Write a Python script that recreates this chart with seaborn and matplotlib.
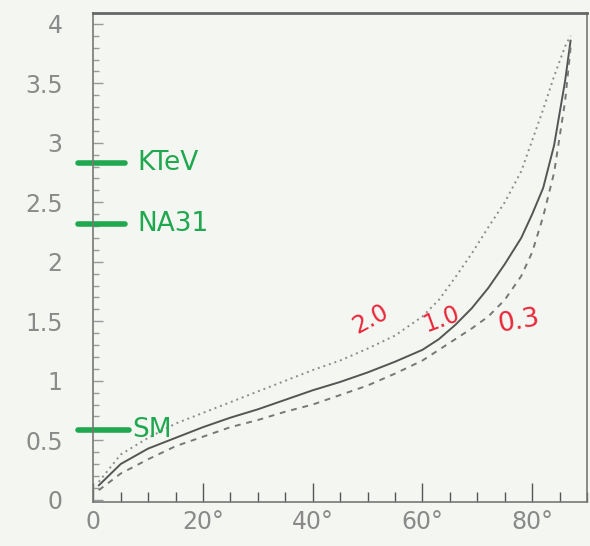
import numpy as np
import pandas as pd
import seaborn as sns
import matplotlib.pyplot as plt
from matplotlib.ticker import MultipleLocator, FuncFormatter

# angle in degrees
angle = [1, 5, 10, 15, 20, 25, 30, 35, 40, 45, 50, 55, 60, 63, 66, 69, 72, 75, 78, 80, 82, 84, 86, 87]
curve_20 = [0.15, 0.38, 0.52, 0.64, 0.73, 0.82, 0.91, 1.00, 1.09, 1.17, 1.27, 1.38, 1.54, 1.68,
            1.87, 2.07, 2.29, 2.50, 2.76, 3.02, 3.28, 3.56, 3.81, 3.90]
curve_10 = [0.12, 0.30, 0.43, 0.52, 0.61, 0.69, 0.76, 0.84, 0.92, 0.99, 1.07, 1.16, 1.26, 1.35,
            1.47, 1.61, 1.78, 1.98, 2.20, 2.40, 2.62, 2.98, 3.52, 3.86]
curve_03 = [0.08, 0.22, 0.34, 0.45, 0.53, 0.61, 0.67, 0.74, 0.80, 0.88, 0.96, 1.06, 1.17, 1.26,
            1.35, 1.44, 1.54, 1.68, 1.88, 2.08, 2.38, 2.75, 3.35, 3.80]
curve_names = ["2.0", "1.0", "0.3"]

experiments = ["KTeV", "NA31", "SM"]
exp_values = [2.83, 2.32, 0.59]

df = pd.DataFrame({
    "angle": angle * 3,
    "value": curve_20 + curve_10 + curve_03,
    "curve": [c for c in curve_names for _ in angle],
})

sns.set_style("ticks")
plt.rcParams['font.family'] = ['DejaVu Sans']
bg = "#f4f6f2"
fig = plt.figure(figsize=(5.9, 5.46), dpi=100, facecolor=bg)
ax = fig.add_axes([0.158, 0.081, 0.837, 0.895])
ax.set_facecolor(bg)

sns.lineplot(data=df, x="angle", y="value", hue="curve", style="curve",
             palette={"2.0": "#8c8c8c", "1.0": "#555555", "0.3": "#777777"},
             dashes={"2.0": (1, 2), "1.0": "", "0.3": (3, 3)},
             linewidth=1.4, legend=False, ax=ax)

ax.set_xlim(0, 90)
ax.set_ylim(-0.017, 4.09)
ax.set_xlabel("")
ax.set_ylabel("")

ax.xaxis.set_major_locator(MultipleLocator(20))
ax.xaxis.set_minor_locator(MultipleLocator(5))
ax.yaxis.set_major_locator(MultipleLocator(0.5))
ax.yaxis.set_minor_locator(MultipleLocator(0.1))
ax.xaxis.set_major_formatter(FuncFormatter(lambda v, p: "0" if v == 0 else f"{v:.0f}°"))
ax.yaxis.set_major_formatter(FuncFormatter(lambda v, p: f"{v:g}"))

ax.tick_params(axis="x", which="major", direction="in", length=14, width=1, color="#555555",
               labelsize=17, labelcolor="#8a8a8a", pad=6)
ax.tick_params(axis="x", which="minor", direction="in", length=7, width=1, color="#555555")
ax.tick_params(axis="y", which="major", direction="in", length=7, width=1, color="#999999",
               labelsize=17, labelcolor="#8a8a8a", pad=22)
ax.tick_params(axis="y", which="minor", direction="in", length=4, width=1, color="#999999")

for side in ["left", "right", "bottom"]:
    ax.spines[side].set_color("#777777")
    ax.spines[side].set_linewidth(1.2)
ax.spines["top"].set_color("#666666")
ax.spines["top"].set_linewidth(2.0)

# hand-drawn green experiment marks
green = "#1fa84f"
for name, val in zip(experiments, exp_values):
    x1 = 5.8 if name != "SM" else 6.5
    ax.plot([-2.7, x1], [val, val], color=green, lw=4, solid_capstyle="round", clip_on=False)
    ax.text(x1 + 2.2 if name != "SM" else x1 + 0.6, val, name, color=green, fontsize=19,
            va="center", ha="left")

# red curve labels
red = "#e8283a"
ax.text(50.5, 1.52, "2.0", color=red, fontsize=17, rotation=28, ha="center", va="center")
ax.text(63.5, 1.52, "1.0", color=red, fontsize=17, rotation=20, ha="center", va="center")
ax.text(77.5, 1.50, "0.3", color=red, fontsize=19, rotation=10, ha="center", va="center")

fig.savefig("out.png", dpi=100, facecolor=bg)
